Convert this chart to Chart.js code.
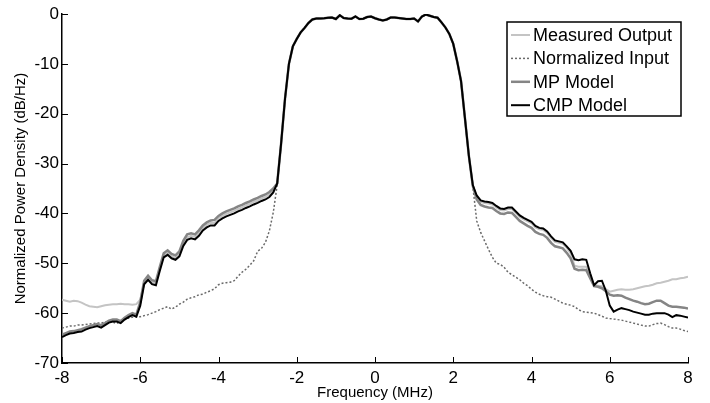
<!DOCTYPE html>
<html>
<head>
<meta charset="utf-8">
<script src="https://cdn.jsdelivr.net/npm/chart.js@4.4.1/dist/chart.umd.min.js"></script>
<style>
  html, body { margin: 0; padding: 0; background: #fff; }
  #wrap { width: 710px; height: 403px; }
</style>
</head>
<body>
<div id="wrap"><canvas id="chart" width="710" height="403"></canvas></div>
<script>
// frequency grid, MHz (-8 .. 8 step 0.1)
const freq = [];
for (let i = -80; i <= 80; i++) freq.push(i / 10);

const xTicks = [-8, -6, -4, -2, 0, 2, 4, 6, 8];
const yTicks = [-70, -60, -50, -40, -30, -20, -10, 0];

// passband, shared by all curves (x = -2.4 .. 2.4)
const band = [
  -26.0, -17.0, -10.0, -6.5, -5.0, -3.7, -2.8, -1.8, -1.1, -0.9,
  -0.9, -0.85, -0.75, -0.7, -1.0, -0.25, -0.8, -0.9, -0.95, -0.5,
  -1.0, -0.95, -0.6, -0.5, -0.85, -1.1, -1.3, -1.1, -0.7, -0.7,
  -0.8, -0.9, -1.0, -1.0, -0.9, -1.5, -0.5, -0.1, -0.35, -0.6,
  -0.75, -1.7, -2.7, -4.0, -6.0, -9.5, -13.5, -21.0, -28.5
];

// lower skirts (x = -8.0 .. -2.5)
const measuredLeft = [
  -57.3, -57.5, -57.7, -57.5, -57.6, -57.9, -58.3, -58.6, -58.7, -58.8,
  -58.6, -58.4, -58.3, -58.2, -58.2, -58.1, -58.2, -58.2, -58.3, -58.2,
  -57.3, -53.9, -52.9, -53.8, -54.0, -51.1, -48.4, -47.9, -48.6, -48.9,
  -48.1, -46.0, -44.8, -44.5, -44.7, -44.0, -42.9, -42.3, -41.9, -41.9,
  -41.0, -40.5, -40.1, -39.8, -39.5, -39.1, -38.8, -38.4, -38.1, -37.7,
  -37.4, -37.0, -36.7, -36.2, -35.4, -34.0
];
const inputLeft = [
  -63.0, -62.8, -62.6, -62.6, -62.4, -62.4, -62.3, -62.2, -62.1, -62.0,
  -62.0, -61.8, -61.7, -61.8, -62.1, -61.5, -61.0, -61.0, -60.8, -60.7,
  -60.7, -60.5, -60.3, -60.0, -59.7, -59.3, -59.0, -58.7, -59.2, -58.8,
  -58.2, -57.8, -57.2, -56.9, -56.7, -56.3, -56.2, -55.8, -55.5, -55.1,
  -54.3, -54.0, -53.9, -53.8, -53.5, -52.6, -51.8, -51.2, -50.4, -49.5,
  -47.6, -47.0, -45.8, -43.5, -39.8, -34.3
];
const mpLeft = [
  -64.3, -64.0, -63.7, -63.6, -63.4, -63.2, -62.9, -62.6, -62.4, -62.2,
  -62.4, -62.0, -61.5, -61.3, -61.3, -61.6, -60.9, -60.4, -60.0, -60.3,
  -57.8, -53.5, -52.5, -53.4, -53.6, -50.7, -48.0, -47.4, -48.1, -48.4,
  -47.6, -45.5, -44.2, -44.0, -44.2, -43.4, -42.4, -41.8, -41.4, -41.3,
  -40.5, -40.0, -39.6, -39.3, -39.0, -38.6, -38.3, -37.9, -37.6, -37.2,
  -36.9, -36.5, -36.2, -35.7, -35.0, -34.0
];
const cmpLeft = [
  -64.8, -64.4, -64.1, -64.0, -63.8, -63.7, -63.3, -63.0, -62.8, -62.6,
  -62.9, -62.4, -61.9, -61.7, -61.7, -62.0, -61.3, -60.8, -60.4, -60.7,
  -58.5, -54.2, -53.3, -54.2, -54.4, -51.5, -48.8, -48.3, -49.0, -49.3,
  -48.6, -46.5, -45.3, -45.0, -45.2, -44.5, -43.4, -42.8, -42.4, -42.4,
  -41.5, -41.0, -40.6, -40.3, -40.0, -39.6, -39.3, -38.9, -38.6, -38.2,
  -37.9, -37.5, -37.2, -36.7, -35.8, -34.0
];

// upper skirts (x = 2.5 .. 8.0)
const measuredRight = [
  -34.4, -36.7, -37.7, -37.9, -38.0, -38.2, -38.8, -39.3, -39.4, -39.1,
  -39.1, -39.9, -40.7, -41.2, -41.6, -42.0, -42.8, -43.2, -43.3, -43.9,
  -44.9, -45.7, -45.9, -46.1, -46.9, -48.0, -50.5, -50.7, -50.7, -50.7,
  -52.5, -54.4, -54.5, -54.6, -55.2, -55.7, -55.5, -55.3, -55.2, -55.3,
  -55.3, -55.2, -55.0, -54.8, -54.6, -54.5, -54.3, -54.0, -53.9, -53.7,
  -53.5, -53.2, -53.2, -53.0, -52.9, -52.7
];
const inputRight = [
  -34.5, -41.5, -43.8, -45.5, -47.2, -48.8, -50.0, -50.2, -50.8, -51.8,
  -52.3, -52.8, -53.3, -54.0, -54.5, -55.2, -55.8, -56.2, -56.5, -56.7,
  -56.8, -57.2, -57.6, -58.0, -58.2, -58.4, -58.7, -59.3, -59.7, -59.8,
  -59.9, -60.0, -60.3, -60.6, -61.0, -61.1, -61.2, -61.3, -61.4, -61.6,
  -61.8, -62.0, -62.2, -62.4, -62.6, -62.6, -62.3, -62.1, -62.0, -62.3,
  -62.7, -63.0, -63.0, -63.2, -63.5, -63.7
];
const mpRight = [
  -34.5, -37.2, -38.3, -38.6, -38.8, -38.9, -39.5, -40.0, -40.1, -39.8,
  -39.9, -40.7, -41.5, -42.0, -42.5, -42.9, -43.7, -44.1, -44.3, -44.9,
  -45.9, -46.6, -46.8, -47.0, -47.9, -49.0, -51.1, -51.4, -51.3, -51.4,
  -53.0, -54.6, -54.7, -55.0, -55.6, -56.3, -56.5, -56.4, -56.5, -56.9,
  -57.2, -57.5, -57.7, -58.0, -58.2, -58.1, -57.8, -57.5, -57.5, -58.0,
  -58.5, -58.7, -58.7, -58.8, -58.9, -59.1
];
const cmpRight = [
  -34.3, -36.4, -37.4, -37.6, -37.7, -37.9, -38.5, -39.0, -39.1, -38.8,
  -38.8, -39.6, -40.4, -40.9, -41.3, -41.7, -42.5, -42.9, -43.0, -43.6,
  -44.6, -45.4, -45.6, -45.8, -46.6, -47.5, -49.2, -49.4, -49.2, -49.3,
  -52.0, -54.4, -53.6, -53.5, -55.5, -58.5, -59.7, -59.3, -59.0, -59.2,
  -59.4, -59.7, -59.9, -60.1, -60.3, -60.3, -60.1, -60.0, -60.0, -60.0,
  -60.3, -60.8, -60.4, -60.5, -60.7, -60.9
];

const measuredOutput = measuredLeft.concat(band, measuredRight);
const normalizedInput = inputLeft.concat(band, inputRight);
const mpModel = mpLeft.concat(band, mpRight);
const cmpModel = cmpLeft.concat(band, cmpRight);

function toPoints(arr) {
  return freq.map((x, i) => ({ x: x, y: arr[i] }));
}

const FONT = "Arial, 'Liberation Sans', sans-serif";

const series = [
  { label: "Measured Output", data: measuredOutput, color: "#c4c4c4", width: 2, dash: [], order: 4 },
  { label: "Normalized Input", data: normalizedInput, color: "#6a6a6a", width: 1.5, dash: [2, 2], order: 3 },
  { label: "MP Model", data: mpModel, color: "#858585", width: 2.5, dash: [], order: 2 },
  { label: "CMP Model", data: cmpModel, color: "#000000", width: 2, dash: [], order: 1 }
];

// inward tick marks, like the original plot
const innerTicks = {
  id: "innerTicks",
  afterDraw(chart) {
    const ctx = chart.ctx;
    const xs = chart.scales.x, ys = chart.scales.y;
    const a = chart.chartArea;
    ctx.save();
    ctx.strokeStyle = "#000";
    ctx.lineWidth = 1;
    xTicks.forEach(v => {
      const px = Math.round(xs.getPixelForValue(v)) + 0.5;
      ctx.beginPath();
      ctx.moveTo(px, a.bottom);
      ctx.lineTo(px, a.bottom - 6);
      ctx.stroke();
    });
    yTicks.forEach(v => {
      const py = Math.round(ys.getPixelForValue(v)) + 0.5;
      ctx.beginPath();
      ctx.moveTo(a.left, py);
      ctx.lineTo(a.left + 6, py);
      ctx.stroke();
    });
    ctx.restore();
  }
};

// boxed legend inside the plot, top right
const boxLegend = {
  id: "boxLegend",
  afterDraw(chart) {
    const ctx = chart.ctx;
    const a = chart.chartArea;
    const right = a.right - 7, top = a.top + 8;
    const w = 174, h = 94;
    const left = right - w;
    ctx.save();
    ctx.fillStyle = "#fff";
    ctx.fillRect(left, top, w, h);
    ctx.strokeStyle = "#000";
    ctx.lineWidth = 1.5;
    ctx.strokeRect(left, top, w, h);
    ctx.font = "18px " + FONT;
    ctx.textBaseline = "middle";
    ctx.textAlign = "left";
    series.forEach((s, i) => {
      const y = top + 13 + i * 23.4;
      ctx.beginPath();
      ctx.strokeStyle = s.color;
      ctx.lineWidth = s.width;
      ctx.setLineDash(s.dash);
      ctx.moveTo(left + 4, y);
      ctx.lineTo(left + 23, y);
      ctx.stroke();
      ctx.setLineDash([]);
      ctx.fillStyle = "#000";
      ctx.fillText(s.label, left + 26, y + 1);
    });
    ctx.restore();
  }
};

const ctx = document.getElementById("chart").getContext("2d");
new Chart(ctx, {
  type: "line",
  data: {
    datasets: series.map(s => ({
      label: s.label,
      data: toPoints(s.data),
      borderColor: s.color,
      borderWidth: s.width,
      borderDash: s.dash,
      pointRadius: 0,
      fill: false,
      tension: 0,
      order: s.order
    }))
  },
  options: {
    responsive: false,
    devicePixelRatio: 1,
    animation: false,
    layout: { padding: { top: 14, right: 22, left: 0, bottom: 0 } },
    plugins: {
      legend: { display: false },
      tooltip: { enabled: false }
    },
    scales: {
      x: {
        type: "linear",
        min: -8,
        max: 8,
        afterBuildTicks(scale) { scale.ticks = xTicks.map(v => ({ value: v })); },
        afterFit(scale) { scale.height = 40; },
        grid: { drawOnChartArea: false, drawTicks: false },
        border: { display: true, color: "#000", width: 1.5 },
        ticks: { color: "#000", padding: 5, maxRotation: 0, font: { size: 17, family: FONT } },
        title: {
          display: true,
          text: "Frequency (MHz)",
          color: "#000",
          font: { size: 15, family: FONT },
          padding: { top: 0, bottom: 1 }
        }
      },
      y: {
        min: -70,
        max: 0,
        afterBuildTicks(scale) { scale.ticks = yTicks.map(v => ({ value: v })); },
        afterFit(scale) { scale.width = 62; },
        grid: { drawOnChartArea: false, drawTicks: false },
        border: { display: true, color: "#000", width: 1.5 },
        ticks: { color: "#000", padding: 3, font: { size: 17, family: FONT } },
        title: {
          display: true,
          text: "Normalized Power Density (dB/Hz)",
          color: "#000",
          font: { size: 15, family: FONT },
          padding: { top: 12, bottom: 0 }
        }
      }
    }
  },
  plugins: [innerTicks, boxLegend]
});
</script>
</body>
</html>
